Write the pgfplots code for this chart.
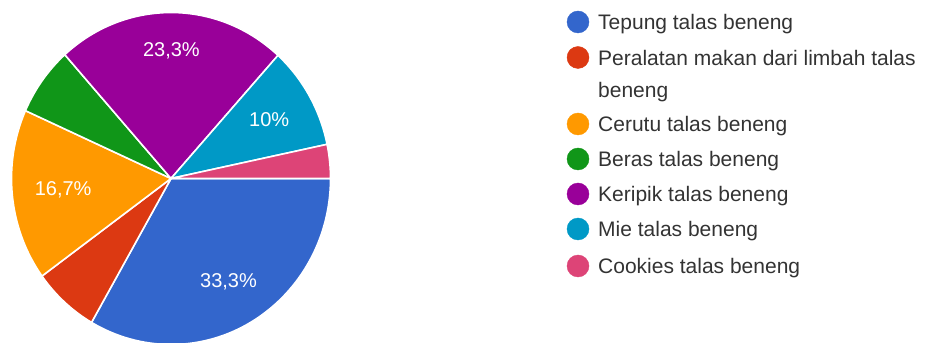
\documentclass[border=0pt]{standalone}
\usepackage{pgfplots}
\usepackage{pgfplotstable}
\pgfplotsset{compat=1.18}
\usepackage{fontspec}
\setmainfont{Liberation Sans}
\definecolor{cTep}{HTML}{3366CC}
\definecolor{cPer}{HTML}{DC3912}
\definecolor{cCer}{HTML}{FF9900}
\definecolor{cBer}{HTML}{109618}
\definecolor{cKer}{HTML}{990099}
\definecolor{cMie}{HTML}{0099C6}
\definecolor{cCoo}{HTML}{DD4477}
\definecolor{legtext}{HTML}{333333}

% value = percent share, lr = label radius (fraction of pie radius)
\pgfplotstableread{
value color lr
33.3  cTep  0.72
6.7   cPer  0.70
16.7  cCer  0.68
6.7   cBer  0.70
23.3  cKer  0.77
10.0  cMie  0.71
3.3   cCoo  0.70
}\pietable

\begin{document}
\begin{tikzpicture}
\def\cx{171}
\def\cy{164.5}
\def\rx{159.5}
\def\ry{166}
\def\cum{0}
\pgfplotsforeachungrouped \i in {0,...,6}{%
  \pgfplotstablegetelem{\i}{value}\of\pietable
  \let\v\pgfplotsretval
  \pgfmathsetmacro\s{-3.6*\cum}%
  \pgfmathsetmacro\newcum{\cum+\v}%
  \pgfmathsetmacro\e{-3.6*\newcum}%
  \pgfmathsetmacro\m{(\s+\e)/2}%
  \pgfplotstablegetelem{\i}{lr}\of\pietable
  \let\lr\pgfplotsretval
  \pgfmathsetmacro\lx{\cx+\lr*\rx*cos(\m)}%
  \pgfmathsetmacro\lyy{\cy+\lr*\ry*sin(\m)}%
  \pgfmathsetmacro\px{\rx*cos(\s)}%
  \pgfmathsetmacro\py{\ry*sin(\s)}%
  \pgfplotstablegetelem{\i}{color}\of\pietable
  \expandafter\xdef\csname pieC\i\endcsname{\pgfplotsretval}%
  \expandafter\xdef\csname pieS\i\endcsname{\s}%
  \expandafter\xdef\csname pieE\i\endcsname{\e}%
  \expandafter\xdef\csname piePX\i\endcsname{\px}%
  \expandafter\xdef\csname piePY\i\endcsname{\py}%
  \expandafter\xdef\csname pieLX\i\endcsname{\lx}%
  \expandafter\xdef\csname pieLY\i\endcsname{\lyy}%
  \xdef\cum{\newcum}%
}
\begin{axis}[
  width=925bp, height=343bp, scale only axis,
  xmin=0, xmax=925, ymin=0, ymax=343,
  hide axis, clip=false,
]
\pgfplotsinvokeforeach{0,...,6}{%
  \edef\temp{\noexpand\fill[fill=\csname pieC#1\endcsname, draw=white, line width=1.6bp, line join=round]
    (axis cs:\cx,\cy) -- ++(\csname piePX#1\endcsname bp,\csname piePY#1\endcsname bp)
    arc[start angle=\csname pieS#1\endcsname, end angle=\csname pieE#1\endcsname, x radius=\rx bp, y radius=\ry bp] -- cycle;}%
  \temp
}
% slice labels
\begin{scope}[every node/.style={text=white, inner sep=0pt, font=\fontsize{20bp}{24bp}\selectfont}]
\node at (axis cs:\csname pieLX0\endcsname,\csname pieLY0\endcsname) {33,3\%};
\node at (axis cs:\csname pieLX2\endcsname,\csname pieLY2\endcsname) {16,7\%};
\node at (axis cs:\csname pieLX4\endcsname,\csname pieLY4\endcsname) {23,3\%};
\node at (axis cs:\csname pieLX5\endcsname,\csname pieLY5\endcsname) {10\%};
\end{scope}

% legend markers
\addplot[only marks, mark=*, mark size=11bp, color=cTep] coordinates {(578,321)};
\addplot[only marks, mark=*, mark size=11bp, color=cPer] coordinates {(578,285.5)};
\addplot[only marks, mark=*, mark size=11bp, color=cCer] coordinates {(578,219)};
\addplot[only marks, mark=*, mark size=11bp, color=cBer] coordinates {(578,184)};
\addplot[only marks, mark=*, mark size=11bp, color=cKer] coordinates {(578,149)};
\addplot[only marks, mark=*, mark size=11bp, color=cMie] coordinates {(578,114)};
\addplot[only marks, mark=*, mark size=11bp, color=cCoo] coordinates {(578,77)};

\begin{scope}[every node/.style={anchor=base west, inner sep=0pt, text=legtext, font=\fontsize{21bp}{25bp}\selectfont}]
\node at (axis cs:598,313) {Tepung talas beneng};
\node at (axis cs:598,277.5) {Peralatan makan dari limbah talas};
\node at (axis cs:598,245) {beneng};
\node at (axis cs:598,211) {Cerutu talas beneng};
\node at (axis cs:598,176) {Beras talas beneng};
\node at (axis cs:598,141) {Keripik talas beneng};
\node at (axis cs:598,106) {Mie talas beneng};
\node at (axis cs:598,69) {Cookies talas beneng};
\end{scope}
\end{axis}
\pgfresetboundingbox
\path[use as bounding box] (0,0) rectangle (925bp,343bp);
\end{tikzpicture}
\end{document}
